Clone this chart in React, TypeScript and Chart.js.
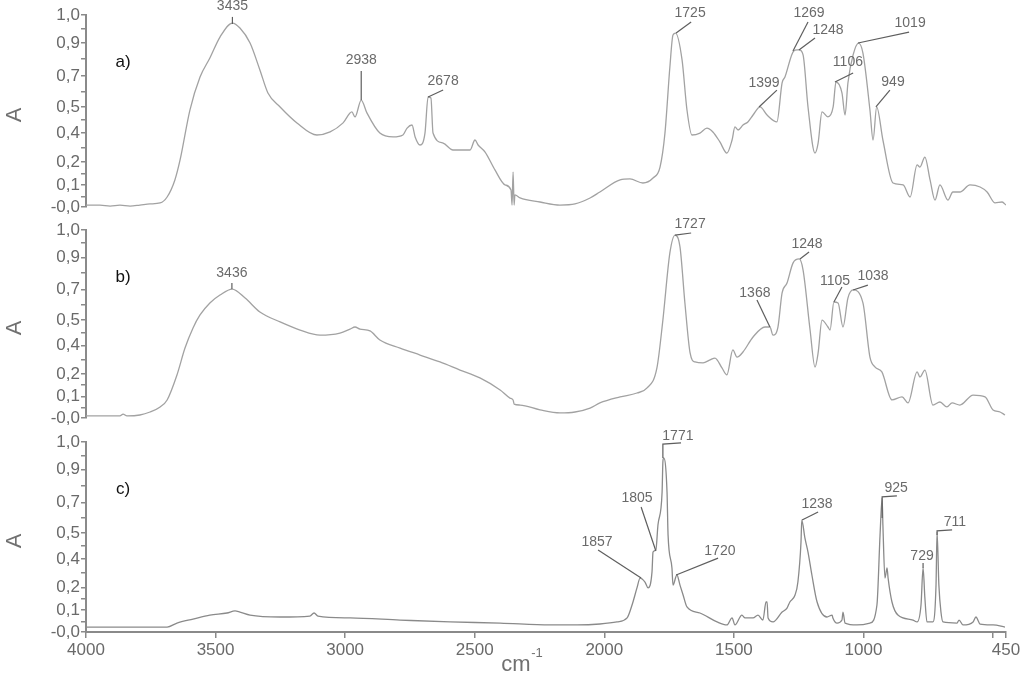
import React, { useEffect, useRef } from "react";
import { Chart, registerables } from "chart.js";
Chart.register(...registerables);

// ---------- data ----------
const waveA = [4000,3946,3907,3869,3830,3792,3753,3714,3687,3657,3637,3599,3560,3522,3483,3435,3406,3367,3329,3298,3251,3186,3109,3058,3008,2974,2962,2938,2916,2866,2815,2777,2761,2742,2730,2711,2692,2680,2669,2661,2622,2584,2518,2499,2487,2460,2422,2383,2360,2356,2352,2348,2345,2325,2248,2171,2113,2055,2017,1939,1901,1851,1812,1785,1766,1747,1735,1725,1700,1681,1662,1631,1604,1581,1554,1527,1507,1496,1484,1465,1446,1426,1399,1372,1334,1314,1303,1269,1256,1248,1233,1214,1187,1175,1160,1137,1117,1106,1083,1071,1060,1040,1019,1002,975,963,949,925,886,847,820,793,782,763,743,724,705,674,655,628,589,550,523,492,465,450];
const absA = [0.010,0.010,0.005,0.010,0.005,0.010,0.016,0.021,0.052,0.141,0.245,0.505,0.677,0.776,0.885,0.958,0.932,0.854,0.714,0.594,0.521,0.438,0.375,0.391,0.438,0.495,0.469,0.557,0.490,0.385,0.365,0.375,0.411,0.427,0.365,0.323,0.385,0.573,0.568,0.385,0.333,0.297,0.297,0.349,0.323,0.286,0.193,0.115,0.089,0.010,0.182,0.010,0.063,0.047,0.026,0.010,0.016,0.047,0.078,0.141,0.146,0.125,0.151,0.208,0.385,0.729,0.896,0.906,0.766,0.505,0.375,0.385,0.411,0.391,0.339,0.281,0.349,0.417,0.401,0.427,0.443,0.479,0.521,0.479,0.443,0.646,0.677,0.813,0.818,0.818,0.792,0.521,0.281,0.333,0.495,0.469,0.521,0.651,0.594,0.479,0.646,0.792,0.854,0.802,0.505,0.349,0.521,0.349,0.125,0.115,0.052,0.219,0.208,0.260,0.141,0.036,0.115,0.036,0.078,0.078,0.115,0.104,0.078,0.021,0.026,0.010];

const waveB = [4000,3907,3869,3857,3842,3792,3753,3714,3687,3649,3618,3587,3560,3522,3483,3436,3386,3329,3251,3174,3097,3020,2981,2962,2943,2904,2866,2788,2711,2634,2557,2480,2402,2364,2352,2348,2325,2248,2171,2113,2055,2017,1939,1874,1835,1797,1774,1747,1727,1708,1689,1669,1650,1619,1592,1573,1546,1527,1504,1488,1465,1426,1380,1361,1349,1330,1314,1295,1272,1248,1233,1206,1187,1175,1160,1137,1129,1114,1098,1079,1060,1040,1002,975,955,929,890,851,828,793,782,763,732,705,678,658,628,577,531,500,473,454];
const absB = [0.011,0.011,0.011,0.021,0.011,0.016,0.032,0.059,0.096,0.229,0.372,0.479,0.548,0.612,0.654,0.686,0.638,0.564,0.511,0.468,0.441,0.452,0.473,0.484,0.473,0.463,0.415,0.372,0.335,0.298,0.255,0.213,0.149,0.106,0.096,0.074,0.069,0.043,0.027,0.032,0.053,0.080,0.112,0.133,0.160,0.266,0.521,0.878,0.973,0.910,0.612,0.346,0.298,0.293,0.309,0.319,0.266,0.229,0.362,0.324,0.351,0.431,0.484,0.484,0.441,0.484,0.665,0.718,0.824,0.846,0.787,0.468,0.271,0.346,0.521,0.484,0.468,0.617,0.612,0.484,0.638,0.681,0.612,0.324,0.271,0.245,0.096,0.112,0.080,0.245,0.218,0.255,0.069,0.085,0.059,0.080,0.069,0.122,0.112,0.043,0.032,0.016];

const waveC = [4000,3687,3649,3587,3522,3456,3425,3406,3367,3251,3136,3120,3105,2981,2788,2595,2402,2210,2105,2017,1951,1912,1893,1874,1862,1843,1831,1816,1812,1801,1793,1777,1774,1771,1758,1754,1739,1735,1720,1708,1696,1681,1631,1565,1527,1507,1496,1469,1457,1426,1407,1388,1376,1372,1368,1349,1314,1295,1284,1264,1253,1241,1238,1226,1214,1199,1179,1141,1121,1118,1102,1083,1079,1071,1025,975,948,936,928,925,917,909,905,890,867,809,793,778,770,763,755,732,720,716,709,701,693,639,631,616,577,566,550,500,454];
const absC = [0.026,0.026,0.047,0.068,0.089,0.100,0.111,0.105,0.089,0.079,0.084,0.100,0.084,0.074,0.063,0.053,0.047,0.037,0.037,0.042,0.053,0.074,0.142,0.232,0.284,0.263,0.232,0.316,0.421,0.432,0.563,0.737,0.895,0.916,0.737,0.511,0.337,0.247,0.300,0.247,0.195,0.132,0.100,0.053,0.037,0.074,0.037,0.089,0.074,0.074,0.089,0.063,0.158,0.158,0.074,0.053,0.105,0.126,0.158,0.195,0.263,0.474,0.589,0.495,0.421,0.300,0.158,0.079,0.089,0.074,0.047,0.063,0.105,0.047,0.037,0.047,0.142,0.511,0.705,0.563,0.284,0.337,0.284,0.158,0.089,0.063,0.053,0.142,0.337,0.179,0.053,0.053,0.247,0.526,0.247,0.105,0.053,0.047,0.063,0.037,0.053,0.079,0.042,0.037,0.026];

const xTickValues = [4000, 3500, 3000, 2500, 2000, 1500, 1000, 500, 450];
const xTickLabels = ["4000", "3500", "3000", "2500", "2000", "1500", "1000", "", "450"];
const yTickValues = [1.0, 0.93, 0.854, 0.77, 0.682, 0.60, 0.521, 0.455, 0.385, 0.31, 0.234, 0.175, 0.115, 0.055, 0.0];
const yTickLabels = ["1,0", "", "0,9", "", "0,7", "", "0,5", "", "0,4", "", "0,2", "", "0,1", "", "-0,0"];

// annotation: label, anchor (wn, A), optional corner, line end, text centre
type Ann = { t: string; a: number[]; c?: number[]; e: number[]; p: number[] };
const annA: Ann[] = [
  { t: "3435", a: [3435, 0.953], e: [3435, 0.99], p: [3435, 1.047] },
  { t: "2938", a: [2938, 0.557], e: [2938, 0.708], p: [2938, 0.766] },
  { t: "2678", a: [2680, 0.573], e: [2622, 0.609], p: [2622, 0.656] },
  { t: "1725", a: [1723, 0.906], e: [1665, 0.964], p: [1669, 1.01] },
  { t: "1399", a: [1403, 0.521], e: [1334, 0.609], p: [1384, 0.646] },
  { t: "1269", a: [1272, 0.813], e: [1214, 0.964], p: [1210, 1.01] },
  { t: "1248", a: [1249, 0.818], e: [1187, 0.88], p: [1137, 0.922] },
  { t: "1106", a: [1110, 0.651], e: [1040, 0.698], p: [1060, 0.755] },
  { t: "1019", a: [1021, 0.854], e: [824, 0.911], p: [820, 0.958] },
  { t: "949", a: [952, 0.521], e: [898, 0.609], p: [886, 0.651] },
];
const annB: Ann[] = [
  { t: "3436", a: [3437, 0.686], e: [3437, 0.718], p: [3437, 0.771] },
  { t: "1727", a: [1727, 0.973], e: [1665, 0.984], p: [1669, 1.032] },
  { t: "1248", a: [1245, 0.846], e: [1210, 0.883], p: [1218, 0.926] },
  { t: "1368", a: [1361, 0.484], e: [1411, 0.628], p: [1419, 0.665] },
  { t: "1105", a: [1114, 0.617], e: [1083, 0.697], p: [1110, 0.729] },
  { t: "1038", a: [1040, 0.681], e: [983, 0.707], p: [963, 0.755] },
];
const annC: Ann[] = [
  { t: "1771", a: [1774, 0.916], c: [1774, 0.989], e: [1704, 0.995], p: [1716, 1.032] },
  { t: "1805", a: [1801, 0.426], e: [1858, 0.658], p: [1874, 0.705] },
  { t: "1857", a: [1858, 0.284], e: [2024, 0.432], p: [2028, 0.474] },
  { t: "1720", a: [1723, 0.3], e: [1561, 0.389], p: [1554, 0.426] },
  { t: "1238", a: [1237, 0.589], e: [1175, 0.632], p: [1179, 0.674] },
  { t: "925", a: [928, 0.6], c: [928, 0.711], e: [871, 0.716], p: [874, 0.758] },
  { t: "729", a: [770, 0.337], e: [770, 0.363], p: [774, 0.4] },
  { t: "711", a: [716, 0.511], c: [716, 0.532], e: [658, 0.537], p: [647, 0.579] },
];

// ---------- styles ----------
const AXIS = "#8a8a8a";
const TICK_TXT = "#6a6a6a";
const FONT = "'Liberation Sans', Arial, sans-serif";

type PanelProps = {
  waves: number[]; abs: number[]; anns: Ann[]; label: string; color: string;
  showX: boolean; top: number; height: number; padTop: number; padBottom: number;
};

function Panel(p: PanelProps) {
  const ref = useRef<HTMLCanvasElement | null>(null);
  useEffect(() => {
    if (!ref.current) return;
    const overlay = {
      id: "overlay",
      afterDatasetsDraw(chart: any) {
        const ctx = chart.ctx;
        const xs = chart.scales.x, ys = chart.scales.y;
        const X = (v: number) => xs.getPixelForValue(v);
        const Y = (v: number) => ys.getPixelForValue(v);
        ctx.save();
        ctx.strokeStyle = "#5e5e5e";
        ctx.lineWidth = 1.2;
        ctx.fillStyle = "#6a6a6a";
        ctx.font = `14px ${FONT}`;
        ctx.textAlign = "center";
        ctx.textBaseline = "middle";
        for (const an of p.anns) {
          ctx.beginPath();
          ctx.moveTo(X(an.a[0]), Y(an.a[1]));
          if (an.c) ctx.lineTo(X(an.c[0]), Y(an.c[1]));
          ctx.lineTo(X(an.e[0]), Y(an.e[1]));
          ctx.stroke();
          ctx.fillText(an.t, X(an.p[0]), Y(an.p[1]));
        }
        const ca = chart.chartArea;
        ctx.fillStyle = "#111";
        ctx.font = `17px ${FONT}`;
        ctx.fillText(p.label, ca.left + 37, ca.top + 47);
        ctx.fillStyle = "#707070";
        ctx.font = `22px ${FONT}`;
        ctx.save();
        ctx.translate(15, (ca.top + ca.bottom) / 2 + 4);
        ctx.rotate(-Math.PI / 2);
        ctx.fillText("A", 0, 0);
        ctx.restore();
        if (p.showX) {
          ctx.fillStyle = "#707070";
          ctx.font = `22px ${FONT}`;
          ctx.textAlign = "center";
          ctx.fillText("cm", 516, ca.bottom + 33);
          ctx.font = `13px ${FONT}`;
          ctx.fillText("-1", 537, ca.bottom + 21);
        }
        ctx.restore();
      },
    };
    const chart = new Chart(ref.current, {
      type: "line",
      data: {
        datasets: [{
          data: p.waves.map((w, i) => ({ x: w, y: p.abs[i] })),
          borderColor: p.color, borderWidth: 1.3, pointRadius: 0,
          cubicInterpolationMode: "monotone", fill: false,
        }],
      },
      options: {
        animation: false, responsive: false, maintainAspectRatio: false,
        layout: { padding: { left: 0, right: 18, top: p.padTop, bottom: p.padBottom } },
        plugins: { legend: { display: false }, tooltip: { enabled: false } },
        scales: {
          x: {
            type: "linear", reverse: true, min: 450, max: 4000, display: p.showX,
            afterBuildTicks: (s: any) => { s.ticks = xTickValues.map((v) => ({ value: v })); },
            afterFit: (s: any) => { s.height = p.showX ? 50 : 0; },
            ticks: {
              autoSkip: false, maxRotation: 0, padding: 2, color: TICK_TXT,
              font: { size: 17, family: FONT },
              callback: (_v: any, i: number) => xTickLabels[i],
            },
            grid: { drawOnChartArea: false, drawTicks: true, tickLength: 6, color: AXIS, lineWidth: 1.5 },
            border: { color: AXIS, width: 2 },
          },
          y: {
            type: "linear", min: 0, max: 1,
            afterBuildTicks: (s: any) => { s.ticks = yTickValues.map((v) => ({ value: v })); },
            afterFit: (s: any) => { s.width = 86; },
            ticks: {
              autoSkip: false, padding: 1, color: TICK_TXT,
              font: { size: 17, family: FONT },
              callback: (_v: any, i: number) => yTickLabels[i],
            },
            grid: { drawOnChartArea: false, drawTicks: true, tickLength: 5, color: AXIS, lineWidth: 1.5 },
            border: { color: AXIS, width: 2 },
          },
        },
      },
      plugins: [overlay],
    } as any);
    return () => chart.destroy();
  }, []);
  return (
    <canvas ref={ref} width={1024} height={p.height}
      style={{ position: "absolute", left: 0, top: p.top, width: 1024, height: p.height }} />
  );
}

export default function App() {
  return (
    <div style={{ position: "absolute", left: 0, top: 0, width: 1024, height: 682, background: "#fff", overflow: "hidden" }}>
      <Panel waves={waveA} abs={absA} anns={annA} label="a)" color="#a2a2a2" showX={false} top={0} height={230} padTop={15} padBottom={23} />
      <Panel waves={waveB} abs={absB} anns={annB} label="b)" color="#a2a2a2" showX={false} top={200} height={240} padTop={30} padBottom={22} />
      <Panel waves={waveC} abs={absC} anns={annC} label="c)" color="#8a8a8a" showX={true} top={410} height={272} padTop={32} padBottom={0} />
    </div>
  );
}
